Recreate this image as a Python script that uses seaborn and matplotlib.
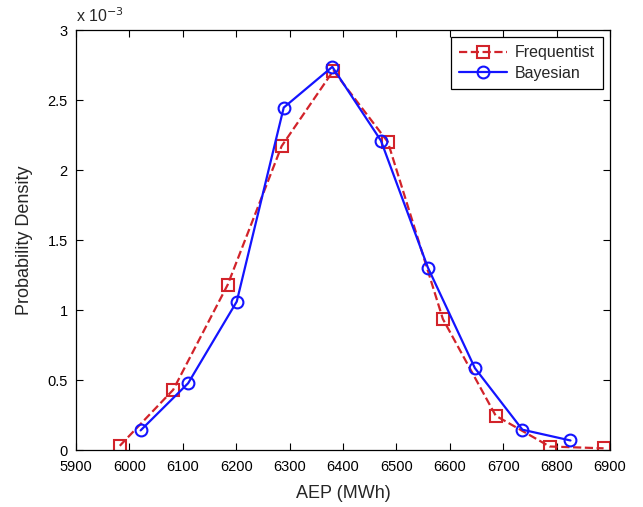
import matplotlib
matplotlib.use("Agg")
import matplotlib.pyplot as plt
import seaborn as sns
import pandas as pd
from matplotlib.ticker import FuncFormatter

freq_x = [5982, 6082, 6184, 6285, 6382, 6484, 6587, 6686, 6787, 6888]
freq_y = [0.030, 0.43, 1.18, 2.17, 2.71, 2.20, 0.936, 0.245, 0.025, 0.012]
bayes_x = [6021, 6110, 6201, 6289, 6380, 6471, 6559, 6647, 6736, 6826]
bayes_y = [0.140, 0.477, 1.06, 2.446, 2.737, 2.21, 1.303, 0.585, 0.145, 0.068]

x_ticks = [5900, 6000, 6100, 6200, 6300, 6400, 6500, 6600, 6700, 6800, 6900]
y_ticks = [0, 0.5, 1, 1.5, 2, 2.5, 3]

sns.set_style("ticks")
plt.rcParams['font.family'] = ['Liberation Sans', 'DejaVu Sans']
plt.rcParams['xtick.direction'] = 'in'
plt.rcParams['ytick.direction'] = 'in'

fig = plt.figure(figsize=(6.43, 5.07), dpi=100)
ax = fig.add_axes([76/643, 1 - 450/507, 534/643, 420/507])

df_f = pd.DataFrame({"x": freq_x, "y": [v * 1e-3 for v in freq_y]})
df_b = pd.DataFrame({"x": bayes_x, "y": [v * 1e-3 for v in bayes_y]})

red = "#d2232a"
blue = "#1414ff"
sns.lineplot(data=df_f, x="x", y="y", ax=ax, color=red, linestyle="--",
             linewidth=1.6, marker="s", markersize=8, markerfacecolor="none",
             markeredgecolor=red, markeredgewidth=1.5, label="Frequentist",
             sort=False, errorbar=None)
sns.lineplot(data=df_b, x="x", y="y", ax=ax, color=blue, linestyle="-",
             linewidth=1.6, marker="o", markersize=8.5, markerfacecolor="none",
             markeredgecolor=blue, markeredgewidth=1.5, label="Bayesian",
             sort=False, errorbar=None)

ax.set_xlim(5900, 6900)
ax.set_ylim(0, 3e-3)
ax.set_xticks(x_ticks)
ax.set_yticks([v * 1e-3 for v in y_ticks])
ax.yaxis.set_major_formatter(FuncFormatter(lambda v, p: f"{v*1e3:g}"))
ax.tick_params(axis='both', which='both', direction='in', top=True, right=True,
               labelsize=10.5, length=5, width=0.8, colors='black')
ax.tick_params(axis='x', pad=7)
ax.tick_params(axis='y', pad=6)
for s in ax.spines.values():
    s.set_visible(True)
    s.set_linewidth(0.9)
    s.set_color('black')

ax.set_xlabel("AEP (MWh)", fontsize=13, labelpad=8)
ax.set_ylabel("Probability Density", fontsize=13, labelpad=10)
ax.text(0.0, 1.012, r"x 10$^{-3}$", transform=ax.transAxes, fontsize=11.5,
        ha='left', va='bottom')

leg = ax.legend(loc='upper right', fontsize=11.5, frameon=True, fancybox=False,
                edgecolor='black', framealpha=1, borderpad=0.5, handlelength=3.0,
                borderaxespad=0.45, labelspacing=0.35, handletextpad=0.5)
leg.get_frame().set_linewidth(0.9)

fig.savefig("out.png", dpi=100)
